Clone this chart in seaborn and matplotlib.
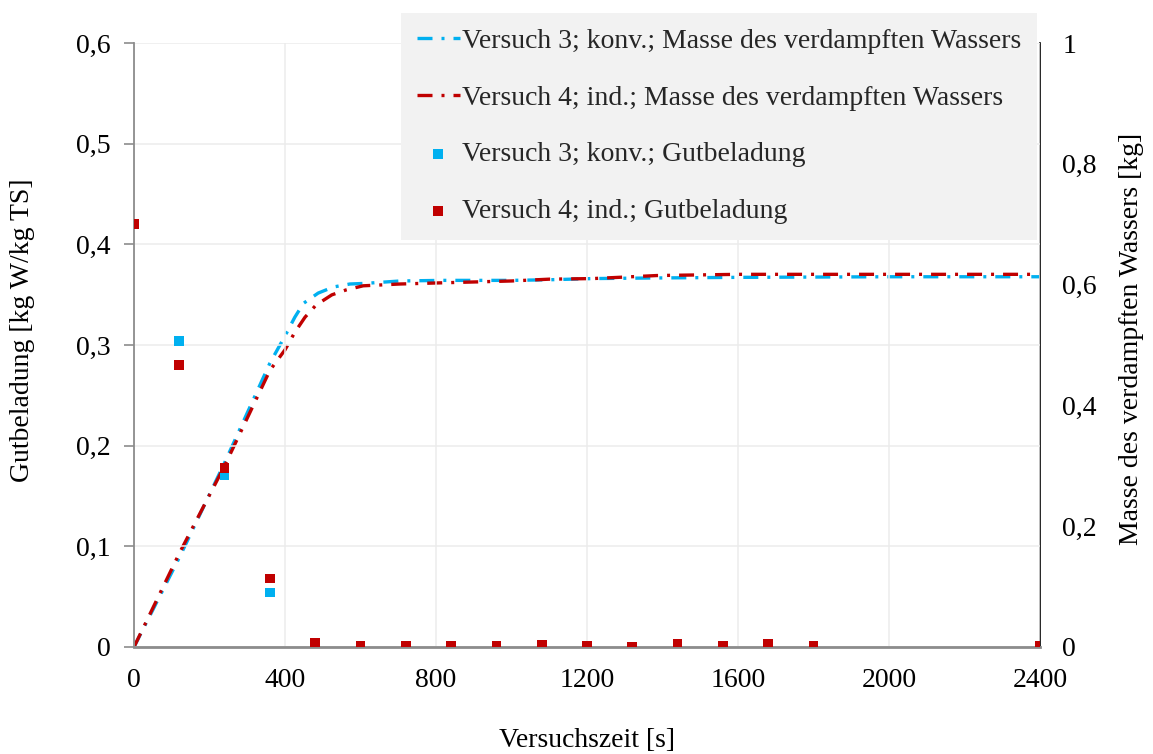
import matplotlib
matplotlib.use("Agg")
import matplotlib.pyplot as plt
import seaborn as sns

# Gutbeladung (moisture load) sampled every 120 s
t_v3_points = [0, 120, 240, 360, 480, 600, 720, 840, 960, 1080, 1200, 1320, 1440, 1560, 1680, 1800]
load_v3 = [0.42, 0.304, 0.171, 0.054, 0.0, 0.0, 0.0, 0.0, 0.0, 0.0, 0.0, 0.0, 0.0, 0.0, 0.0, 0.0]
t_v4_points = [0, 120, 240, 360, 480, 600, 720, 840, 960, 1080, 1200, 1320, 1440, 1560, 1680, 1800, 2400]
load_v4 = [0.42, 0.280, 0.178, 0.068, 0.004, 0.001, 0.001, 0.001, 0.001, 0.002, 0.001, 0.0005,
           0.003, 0.001, 0.003, 0.001, 0.001]

# Mass of evaporated water [kg]
t_v3_mass = [0, 120, 240, 360, 400, 426, 449, 488, 528, 572, 612, 705, 819, 1000, 1100, 1216,
             1385, 1600, 2000, 2400]
mass_v3 = [0.0, 0.148, 0.305, 0.47, 0.515, 0.546, 0.569, 0.586, 0.596, 0.601, 0.602, 0.606,
           0.607, 0.607, 0.608, 0.610, 0.611, 0.612, 0.613, 0.613]
t_v4_mass = [0, 120, 240, 360, 400, 426, 453, 482, 524, 561, 607, 705, 819, 1000, 1100, 1216,
             1385, 1600, 2000, 2400]
mass_v4 = [0.0, 0.155, 0.300, 0.458, 0.492, 0.521, 0.546, 0.566, 0.583, 0.591, 0.598, 0.601,
           0.603, 0.606, 0.609, 0.610, 0.615, 0.617, 0.617, 0.617]

labels_mass = ["Versuch 3; konv.; Masse des verdampften Wassers",
               "Versuch 4; ind.; Masse des verdampften Wassers"]
labels_load = ["Versuch 3; konv.; Gutbeladung", "Versuch 4; ind.; Gutbeladung"]

x_ticks = [0, 400, 800, 1200, 1600, 2000, 2400]
x_ticklabels = ["0", "400", "800", "1200", "1600", "2000", "2400"]
y_left_ticks = [0, 0.1, 0.2, 0.3, 0.4, 0.5, 0.6]
y_left_ticklabels = ["0", "0,1", "0,2", "0,3", "0,4", "0,5", "0,6"]
y_right_ticks = [0, 0.2, 0.4, 0.6, 0.8, 1.0]
y_right_ticklabels = ["0", "0,2", "0,4", "0,6", "0,8", "1"]

BLUE = "#00B0F0"
RED = "#C00000"
GRID = "#ECECEC"
AXIS_GRAY = "#8C8C8C"
FS = 20

sns.set_theme(style="white")
plt.rcParams["font.family"] = ["Liberation Serif", "DejaVu Serif"]

fig = plt.figure(figsize=(11.53, 7.54), dpi=100)
ax = fig.add_axes([0.11622, 0.14191, 0.78577, 0.80106])
ax2 = ax.twinx()

# evaporated water on the secondary axis, drawn beneath the primary axis
dash_pattern = (4.5, 2.7, 0.9, 2.7)
sns.lineplot(x=t_v3_mass, y=mass_v3, ax=ax2, color=BLUE, linewidth=2.4,
             estimator=None, label=labels_mass[0], legend=False)
sns.lineplot(x=t_v4_mass, y=mass_v4, ax=ax2, color=RED, linewidth=2.4,
             estimator=None, label=labels_mass[1], legend=False)
for ln in ax2.get_lines():
    ln.set_dashes(dash_pattern)
    ln.set_dash_capstyle("butt")

ax.set_zorder(ax2.get_zorder() + 1)
ax.patch.set_visible(False)

sns.scatterplot(x=t_v3_points, y=load_v3, ax=ax, marker="s", s=48, color=BLUE,
                edgecolor="none", linewidth=0, label=labels_load[0], legend=False, zorder=3)
sns.scatterplot(x=t_v4_points, y=load_v4, ax=ax, marker="s", s=48, color=RED,
                edgecolor="none", linewidth=0, label=labels_load[1], legend=False, zorder=4)

ax.set_xlim(0, 2400)
ax.set_ylim(0, 0.6)
ax2.set_ylim(0, 1.0)

ax.set_xticks(x_ticks)
ax.set_xticklabels(x_ticklabels, fontsize=FS, color="black")
ax.set_yticks(y_left_ticks)
ax.set_yticklabels(y_left_ticklabels, fontsize=FS, color="black")
ax2.set_yticks(y_right_ticks)
ax2.set_yticklabels(y_right_ticklabels, fontsize=FS, color="black")

ax.tick_params(axis="x", length=0, pad=15)
ax.tick_params(axis="y", length=7, width=1.2, color=AXIS_GRAY, pad=10, direction="out", left=True)
ax2.tick_params(axis="y", length=0, pad=16, right=True)

ax.grid(True, color=GRID, linewidth=1.1)
ax.set_axisbelow(True)

for name in ("top", "right"):
    ax.spines[name].set_visible(False)
ax.spines["left"].set_color(AXIS_GRAY)
ax.spines["left"].set_linewidth(1.3)
ax.spines["bottom"].set_color(AXIS_GRAY)
ax.spines["bottom"].set_linewidth(2.0)
for name in ("top", "left", "bottom"):
    ax2.spines[name].set_visible(False)
ax2.spines["right"].set_color("black")
ax2.spines["right"].set_linewidth(1.2)

ax.set_xlabel("Versuchszeit [s]", fontsize=FS, color="black", va="center")
ax.xaxis.set_label_coords(0.5, -0.154)
ax.set_ylabel("Gutbeladung [kg W/kg TS]", fontsize=FS, color="black", va="center")
ax.yaxis.set_label_coords(-0.1236, 0.525)
ax2.set_ylabel("Masse des verdampften Wassers [kg]", fontsize=FS, color="black",
               va="center", rotation=90)
ax2.yaxis.set_label_coords(1.1015, 0.51)

handles = list(ax2.get_lines()) + list(ax.collections)
labels = labels_mass + labels_load
leg = ax.legend(handles, labels, loc="upper right",
                bbox_to_anchor=(1037 / 1153, 1 - 13 / 754), bbox_transform=fig.transFigure,
                fontsize=FS, frameon=True, fancybox=False, framealpha=1.0,
                facecolor="#F2F2F2", edgecolor="none", borderpad=0.55,
                labelspacing=1.13, handlelength=1.55, handletextpad=0.1,
                borderaxespad=0)

fig.savefig("out.png", dpi=100)
